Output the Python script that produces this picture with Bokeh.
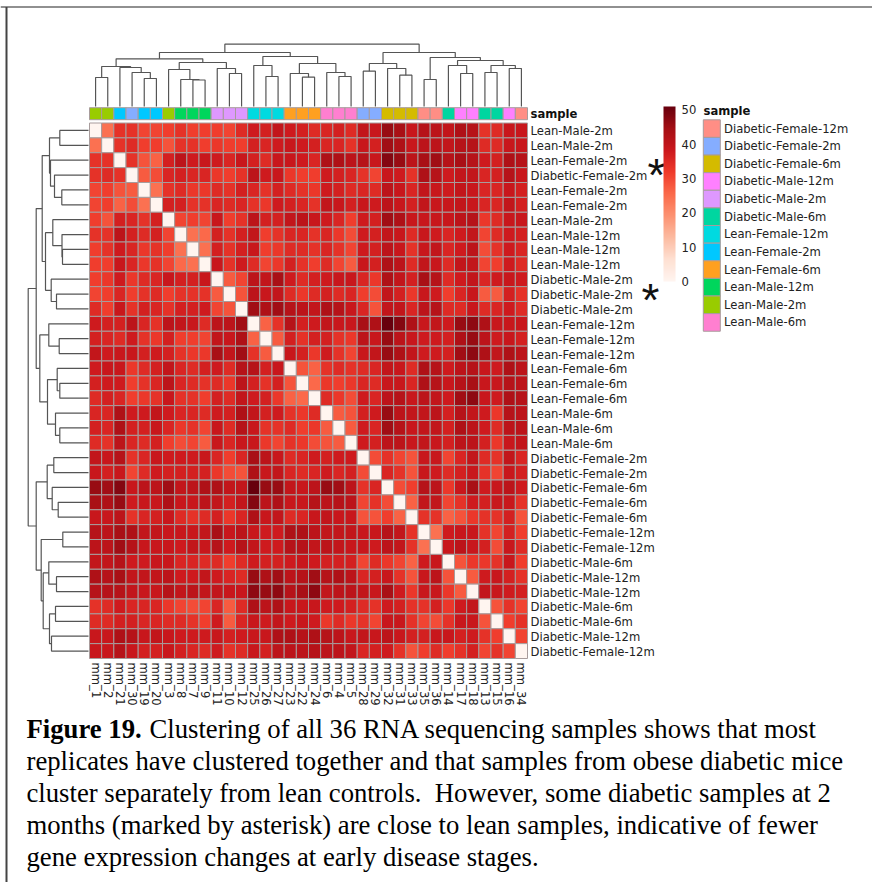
from bokeh.plotting import figure
from bokeh.models import Range1d, LinearColorMapper, ColorBar, FixedTicker, ColumnDataSource
from bokeh.core.properties import value
from bokeh.embed import file_html
from bokeh.resources import INLINE
import numpy as np

# ---------------- data ----------------
column_names = ["mm_1","mm_2","mm_21","mm_30","mm_19","mm_20","mm_3","mm_8","mm_7","mm_9","mm_11","mm_10",
                "mm_12","mm_25","mm_26","mm_27","mm_23","mm_22","mm_24","mm_6","mm_4","mm_5","mm_28","mm_29",
                "mm_32","mm_31","mm_33","mm_35","mm_36","mm_14","mm_17","mm_18","mm_13","mm_15","mm_16","mm_34"]
sample_groups = ["Lean-Male-2m","Lean-Male-2m","Lean-Female-2m","Diabetic-Female-2m","Lean-Female-2m","Lean-Female-2m",
                 "Lean-Male-2m","Lean-Male-12m","Lean-Male-12m","Lean-Male-12m","Diabetic-Male-2m","Diabetic-Male-2m",
                 "Diabetic-Male-2m","Lean-Female-12m","Lean-Female-12m","Lean-Female-12m","Lean-Female-6m","Lean-Female-6m",
                 "Lean-Female-6m","Lean-Male-6m","Lean-Male-6m","Lean-Male-6m","Diabetic-Female-2m","Diabetic-Female-2m",
                 "Diabetic-Female-6m","Diabetic-Female-6m","Diabetic-Female-6m","Diabetic-Female-12m","Diabetic-Female-12m",
                 "Diabetic-Male-6m","Diabetic-Male-12m","Diabetic-Male-12m","Diabetic-Male-6m","Diabetic-Male-6m",
                 "Diabetic-Male-12m","Diabetic-Female-12m"]
legend_names = ["Diabetic-Female-12m","Diabetic-Female-2m","Diabetic-Female-6m","Diabetic-Male-12m","Diabetic-Male-2m",
                "Diabetic-Male-6m","Lean-Female-12m","Lean-Female-2m","Lean-Female-6m","Lean-Male-12m","Lean-Male-2m","Lean-Male-6m"]
legend_colors = ["#FF8E85","#85ADFF","#D4BB00","#FF80FF","#DE98FF","#00D6A0",
                 "#00DAE0","#00C8FF","#FFA020","#00D65C","#99CC00","#FF7FD0"]

# upper triangle of the symmetric distance matrix, row by row (starts right of the diagonal)
upper = [
 [24,33,33,30,30,31,33,31,31,31,30,34,37,36,39,37,36,34,35,36,34,39,38,45,43,38,41,40,39,42,41,33,34,38,38],
 [33,34,31,31,28,33,33,31,32,31,31,36,35,37,38,37,36,35,35,33,38,36,44,42,38,40,40,39,41,41,34,34,38,38],
 [33,28,26,36,40,37,38,37,35,38,36,34,38,38,37,35,42,42,40,41,38,47,45,40,43,44,41,43,41,37,36,42,41],
 [27,29,35,36,35,35,32,31,33,40,37,38,32,31,31,37,36,35,33,30,38,37,33,42,41,37,39,39,35,36,41,38],
 [24,33,34,32,32,34,33,36,35,33,36,34,33,32,37,36,34,35,34,40,38,35,39,38,37,39,38,35,35,38,36],
 [36,36,33,33,35,34,35,33,32,37,36,35,33,39,38,36,38,37,40,38,36,39,38,38,39,38,35,35,39,36],
 [30,31,30,38,31,33,40,36,36,39,40,38,37,35,31,37,36,44,42,38,38,38,38,40,41,32,34,38,38],
 [24,25,36,33,36,39,31,33,35,35,33,35,32,29,37,36,39,38,34,38,37,35,37,39,30,34,37,36],
 [24,36,33,36,38,31,32,34,34,33,35,33,30,37,36,40,38,33,38,39,35,37,40,29,33,37,35],
 [38,33,37,34,30,32,36,33,31,34,30,27,38,36,42,40,34,39,38,34,39,39,30,31,37,34],
 [27,30,40,39,43,37,34,36,37,38,38,35,32,42,39,36,43,41,34,37,39,35,37,38,37],
 [28,40,38,39,34,32,34,36,34,35,31,29,39,36,32,38,37,31,35,38,27,27,36,33],
 [44,42,44,41,40,39,42,41,38,35,28,39,39,35,40,41,34,34,38,34,35,37,34],
 [26,33,41,36,37,39,38,38,43,42,50,47,42,38,39,37,45,46,42,38,38,38],
 [27,36,33,36,36,33,32,40,38,45,40,38,37,37,36,42,45,40,37,38,36],
 [38,36,32,37,33,30,38,39,45,42,39,37,37,36,44,46,42,39,42,40],
 [28,26,33,34,33,34,35,39,38,34,42,41,37,40,41,38,37,42,40],
 [25,32,31,32,35,34,38,38,35,42,41,38,41,43,38,38,41,40],
 [34,32,29,37,35,40,41,38,40,39,37,44,46,38,37,42,41],
 [27,28,36,37,45,40,39,39,40,36,41,39,37,32,41,40],
 [27,37,35,44,41,38,39,39,36,42,40,37,34,40,40],
 [37,36,40,40,38,39,38,36,40,40,36,32,38,39],
 [29,33,30,28,38,38,30,35,39,34,33,39,35],
 [35,33,28,38,37,34,36,38,33,30,38,36],
 [29,31,41,40,32,38,43,37,38,40,37],
 [26,39,39,30,33,37,36,38,38,33],
 [33,33,26,28,32,33,33,36,28],
 [24,37,38,38,33,30,36,31],
 [38,40,38,36,29,38,34],
 [28,32,32,33,38,31],
 [27,37,38,36,33],
 [39,38,37,36],
 [28,33,30],
 [31,33],
 [30],
]

# dendrogram topology: (child, child); ids 0-35 are leaves, 36+ are earlier merges
merges = [(0,1),(4,5),(3,37),(2,38),(36,39),(8,9),(7,41),(6,42),(11,12),(10,44),(43,45),(40,46),
          (14,15),(13,48),(17,18),(16,50),(20,21),(19,52),(51,53),(49,54),(47,55),(22,23),(25,26),
          (24,58),(57,59),(27,28),(30,31),(29,62),(32,33),(34,35),(64,65),(63,66),(61,67),(60,68),(56,69)]
# merge heights
col_heights = [29,28,34,39,40,26.5,27,37,33,38,44,47.7,30,41,29.3,33,30,34,43,50,54,35.3,31.3,38,43,27,33,41,34,38,41,46,49,54,62.3]
row_heights = [28.7,26.7,34,38,39,26,26.5,35.7,32,37.3,43,46.3,29.3,39.7,28.7,31.3,28.7,33,41,48.7,52.3,34.7,30.3,36.3,41.3,25.7,32,39.7,33,37,39,45.3,47.3,52.3,60.3]

tick_values = [0,10,20,30,40,50]
reds = ["#fff5f0","#fee0d2","#fcbba1","#fc9272","#fb6a4a","#ef3b2c","#cb181d","#a50f15","#67000d"]
caption = ["Clustering of all 36 RNA sequencing samples shows that most",
           "replicates have clustered together and that samples from obese diabetic mice",
           "cluster separately from lean controls.\u00a0 However, some diabetic samples at 2",
           "months (marked by asterisk) are close to lean samples, indicative of fewer",
           "gene expression changes at early disease stages."]

# ---------------- layout ----------------
W, H = 872, 882
LEFT, TOP, RIGHT, BOTTOM = 89.0, 122.5, 527.0, 658.0
n = len(column_names)
cw, ch = (RIGHT - LEFT) / n, (BOTTOM - TOP) / n
PX = 1 / cw
PY = 1 / ch
def X(px): return (px - LEFT) / cw
def Y(px): return (px - TOP) / ch

def ramp(cols, k=256):
    a = np.array([[int(c[i:i+2], 16) for i in (1, 3, 5)] for c in cols], float)
    t = np.linspace(0, len(cols) - 1, k)
    out = np.stack([np.interp(t, np.arange(len(cols)), a[:, j]) for j in range(3)], 1).round().astype(int)
    return ["#%02x%02x%02x" % tuple(v) for v in out]
palette = ramp(reds)

GRID = "#a89c9c"
DARK = "#222222"
SANS = value("DejaVu Sans")
SERIF = value("Liberation Serif")

p = figure(width=W, height=H, output_backend="svg", toolbar_location=None, min_border=0,
           x_range=Range1d(X(0), X(W)), y_range=Range1d(Y(H), Y(0)),
           margin=(0, 0, 0, 0), outline_line_color=None, background_fill_color="white")
p.xaxis.visible = False
p.yaxis.visible = False
p.grid.visible = False

# heat map
M = np.zeros((n, n))
for i, row in enumerate(upper):
    for k, v in enumerate(row):
        M[i, i + 1 + k] = v
        M[i + 1 + k, i] = v
xs, ys = np.meshgrid(np.arange(n) + .5, np.arange(n) + .5)
mapper = LinearColorMapper(palette=palette, low=0, high=50)
src = ColumnDataSource(dict(x=xs.ravel(), y=ys.ravel(), v=M.ravel()))
p.rect("x", "y", 1, 1, source=src, fill_color={"field": "v", "transform": mapper},
       line_color=GRID, line_width=1)

# annotation bar
cmap = dict(zip(legend_names, legend_colors))
p.rect(np.arange(n) + .5, Y(113.2), 1, 12 * PY, fill_color=[cmap[s] for s in sample_groups],
       line_color=GRID, line_width=1)

# dendrograms
def dendro(heights):
    pos = list(np.arange(n) + .5)
    hgt = [0.0] * n
    a, b = [], []
    for (l, r), h in zip(merges, heights):
        a.append([pos[l], pos[l], pos[r], pos[r]])
        b.append([hgt[l], h, h, hgt[r]])
        pos.append((pos[l] + pos[r]) / 2)
        hgt.append(h)
    return a, b
a, b = dendro(col_heights)
p.multi_line(a, [[Y(106 - v) for v in q] for q in b], line_color="#555555", line_width=1.2)
a, b = dendro(row_heights)
p.multi_line([[X(88 - v) for v in q] for q in b], a, line_color="#555555", line_width=1.2)

# row / column labels
FS = "11.6px"
p.text([X(530)] * n, np.arange(n) + .57, text=sample_groups, text_font=SANS, text_font_size=FS,
       text_color=DARK, text_align="left", text_baseline="middle")
p.text(np.arange(n) + .5, [Y(662)] * n, text=column_names, text_font=SANS, text_font_size=FS,
       text_color=DARK, text_align="left", text_baseline="middle", angle=-np.pi / 2)
p.text([X(530), X(703)], [Y(113), Y(110)], text=["sample", "sample"], text_font=SANS,
       text_font_size=FS, text_font_style="bold", text_color="#111111",
       text_align="left", text_baseline="middle")

# legend
k = len(legend_names)
leg_y = [Y(119.3 + 17.62 * (i + .5)) for i in range(k)]
p.rect([X(711.3)] * k, leg_y, 17 * PX, 17.62 * PY, fill_color=legend_colors, line_color=GRID, line_width=1)
p.text([X(723.5)] * k, leg_y, text=legend_names, text_font=SANS, text_font_size=FS, text_color=DARK,
       text_align="left", text_baseline="middle")

# colour bar
bar_mapper = LinearColorMapper(palette=palette, low=0, high=51)
bar = ColorBar(color_mapper=bar_mapper, ticker=FixedTicker(ticks=tick_values), location=(663, H - 281),
               width=12, height=175, padding=0, margin=0, major_tick_line_color=None, bar_line_color=None,
               border_line_color=None, background_fill_color=None, label_standoff=6,
               major_label_text_font="DejaVu Sans", major_label_text_font_size=FS, major_label_text_color=DARK)
p.add_layout(bar, "center")

# asterisks
p.text([X(656), X(650)], [Y(174), Y(299)], text=["*", "*"], text_font=value("Liberation Sans"),
       text_font_size="46px", text_color="#111111", text_align="center", text_baseline="middle")

# caption
cap_y = [728.5, 760.5, 792.5, 824.5, 856.5]
CS = "26.7px"
p.text([X(26)], [Y(cap_y[0])], text=["Figure 19."], text_font=SERIF, text_font_size=CS,
       text_font_style="bold", text_color="black", text_align="left", text_baseline="middle")
cap_x = [149, 26, 26, 26, 26]
p.text([X(v) for v in cap_x], [Y(v) for v in cap_y], text=caption, text_font=SERIF, text_font_size=CS,
       text_color="black", text_align="left", text_baseline="middle")

# frame of the scanned figure
p.segment([X(0)], [Y(6.5)], [X(W)], [Y(6.5)], line_color="#222222", line_width=1.2)
p.segment([X(6)], [Y(6.5)], [X(6)], [Y(H)], line_color="#444444", line_width=2)

open("out.html", "w").write(file_html(p, INLINE))
